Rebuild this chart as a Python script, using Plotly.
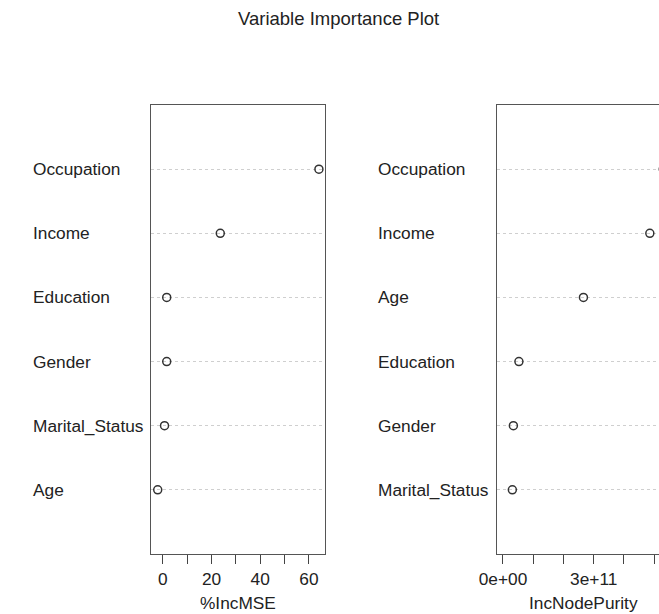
import plotly.graph_objects as go

# Variable importance from a random forest regression
mse_vars = ["Age", "Marital_Status", "Gender", "Education", "Income", "Occupation"]
inc_mse = [-2.1, 0.7, 1.6, 1.6, 23.6, 64.1]

purity_vars = ["Marital_Status", "Gender", "Education", "Age", "Income", "Occupation"]
inc_node_purity = [0.31e11, 0.344e11, 0.527e11, 2.66e11, 4.855e11, 5.3e11]

mse_ticks = [0, 10, 20, 30, 40, 50, 60]
mse_ticktext = ["0", "", "20", "", "40", "", "60"]
purity_ticks = [0, 1e11, 2e11, 3e11, 4e11, 5e11]
purity_ticktext = ["0e+00", "", "", "3e+11", "", ""]

W, H = 659, 614
FONT = "Liberation Sans, Arial, sans-serif"
FS = 17.3
INK = "#222222"
FRAME = "#555555"


def px(x):
    return x / W


def py(y):
    return 1 - y / H


box_top, box_bot = 105, 554
left_box = (137, 316)
right_box = (492, 670)

fig = go.Figure()

marker = dict(symbol="circle-open", size=8, color="#333333", line=dict(width=1.5, color="#333333"))

fig.add_trace(go.Scatter(
    x=inc_mse, y=list(range(1, len(mse_vars) + 1)), mode="markers",
    marker=marker, xaxis="x", yaxis="y", showlegend=False, cliponaxis=True,
))
fig.add_trace(go.Scatter(
    x=inc_node_purity, y=list(range(1, len(purity_vars) + 1)), mode="markers",
    marker=marker, xaxis="x2", yaxis="y2", showlegend=False, cliponaxis=True,
))

# x ranges: left panel spans the data range plus 4%; right panel starts at 0 and is cut at the page edge
lo, hi = min(inc_mse), max(inc_mse)
pad = 0.04 * (hi - lo)
left_range = [lo - pad, hi + pad]

p_hi = max(inc_node_purity)
p_range_full = [-0.04 * p_hi, 1.04 * p_hi]
scale = (p_range_full[1] - p_range_full[0]) / (right_box[1] - right_box[0])
right_range = [p_range_full[0], p_range_full[0] + scale * (W - right_box[0])]

common_x = dict(
    showline=True, linecolor=FRAME, linewidth=1.2, mirror=True,
    ticks="outside", ticklen=9, tickwidth=1.2, tickcolor="#444444",
    showgrid=False, zeroline=False,
    tickfont=dict(family=FONT, size=FS, color=INK),
)
common_y = dict(
    range=[0, 7], tickvals=list(range(1, 7)), showticklabels=False, ticks="",
    showgrid=True, gridcolor="#cfcfcf", griddash="dot", gridwidth=1,
    zeroline=False, showline=True, linecolor=FRAME, linewidth=1.2,
)

fig.update_layout(
    width=W, height=H,
    margin=dict(l=0, r=0, t=0, b=0),
    paper_bgcolor="white", plot_bgcolor="white",
    xaxis=dict(domain=[px(left_box[0]), px(left_box[1])], range=left_range,
               tickvals=mse_ticks, ticktext=mse_ticktext, anchor="y", **common_x),
    yaxis=dict(domain=[py(box_bot), py(box_top)], anchor="x", mirror=True, **common_y),
    xaxis2=dict(domain=[px(right_box[0]), 1.0], range=right_range,
                tickvals=purity_ticks, ticktext=purity_ticktext, anchor="y2", **common_x),
    yaxis2=dict(domain=[py(box_bot), py(box_top)], anchor="x2", mirror=False, **common_y),
)

annotations = []
for i, name in enumerate(mse_vars):
    annotations.append(dict(x=px(13), y=i + 1, xref="paper", yref="y", text=name,
                            xanchor="left", yanchor="middle", showarrow=False,
                            font=dict(family=FONT, size=FS, color=INK)))
for i, name in enumerate(purity_vars):
    annotations.append(dict(x=px(368), y=i + 1, xref="paper", yref="y2", text=name,
                            xanchor="left", yanchor="middle", showarrow=False,
                            font=dict(family=FONT, size=FS, color=INK)))

annotations.append(dict(x=px((left_box[0] + left_box[1]) / 2), y=py(603), xref="paper", yref="paper",
                        text="%IncMSE", showarrow=False, xanchor="center", yanchor="middle",
                        font=dict(family=FONT, size=FS, color=INK)))
annotations.append(dict(x=px((right_box[0] + right_box[1]) / 2), y=py(603), xref="paper", yref="paper",
                        text="IncNodePurity", showarrow=False, xanchor="center", yanchor="middle",
                        font=dict(family=FONT, size=FS, color=INK)))
annotations.append(dict(x=px(330), y=py(18), xref="paper", yref="paper",
                        text="Variable Importance Plot", showarrow=False,
                        xanchor="center", yanchor="middle",
                        font=dict(family=FONT, size=18.5, color=INK)))

fig.update_layout(annotations=annotations)

fig.write_html("out.html")
